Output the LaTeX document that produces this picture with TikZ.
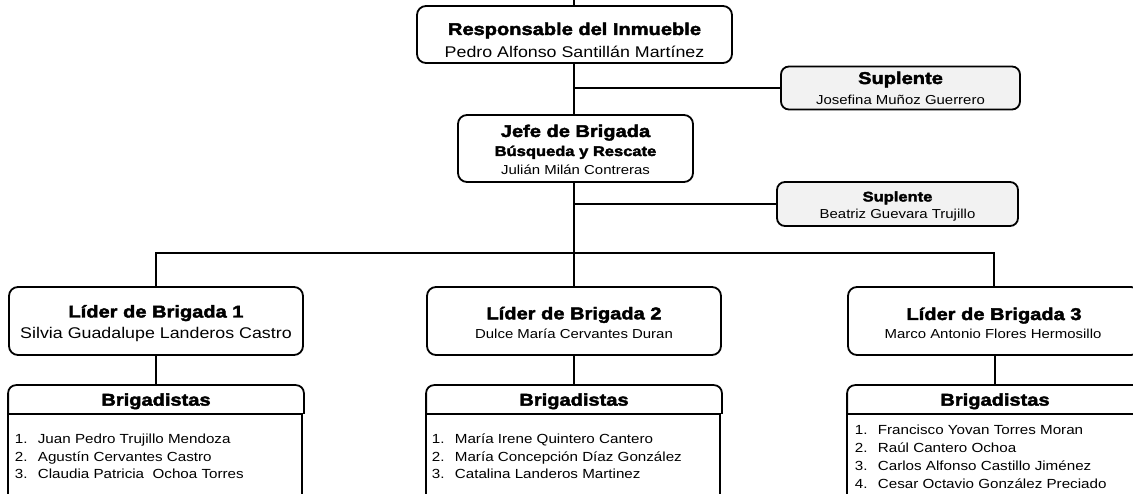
\documentclass[tikz,border=0pt]{standalone}
\usepackage{fontspec}
\setmainfont{Liberation Sans}[FakeStretch=1.15]
\newfontfamily\heavy{Liberation Sans}[FakeStretch=1.18,BoldFeatures={FakeBold=2.5}]
\definecolor{supfill}{HTML}{F2F2F2}
\newcommand{\numit}[1]{\makebox[23pt][l]{#1}}
\begin{document}
\begin{tikzpicture}[x=1pt,y=-1pt,line width=1.8pt,
  box/.style={draw=black,rounded corners=9pt,inner sep=0pt,fill=white},
  supbox/.style={box,fill=supfill,rounded corners=8pt},
  ttl/.style={anchor=base,inner sep=0pt,font=\heavy\bfseries\fontsize{17}{17}\selectfont},
  ttlsm/.style={anchor=base,inner sep=0pt,font=\heavy\bfseries\fontsize{14}{14}\selectfont},
  nm/.style={anchor=base,inner sep=0pt,font=\fontsize{13}{13}\selectfont},
  nmbig/.style={anchor=base,inner sep=0pt,font=\fontsize{15.5}{15.5}\selectfont},
  item/.style={anchor=base west,inner sep=0pt,font=\fontsize{13.2}{13.2}\selectfont},
  hdr/.style={inner sep=0pt,minimum width=294pt,minimum height=27pt,text depth=0pt,
    font=\heavy\bfseries\fontsize{17}{17}\selectfont}]
\useasboundingbox (0,0) rectangle (1133,494);
\clip (0,0) rectangle (1133,494);

% spine coordinates
\coordinate (topend) at (574,0);
\coordinate (spine) at (574,0);
\coordinate (bar) at (574,253);

% boxes
\node[box,minimum width=315pt,minimum height=57pt] (resp) at (574.5,34.5) {};
\node[supbox,minimum width=239pt,minimum height=43pt] (sup1) at (900.5,88) {};
\node[box,minimum width=235pt,minimum height=67pt] (jefe) at (575.5,148.5) {};
\node[supbox,minimum width=241pt,minimum height=44pt] (sup2) at (897.5,204) {};
\node[box,minimum width=294pt,minimum height=68pt] (lid1) at (156,321) {};
\node[box,minimum width=294pt,minimum height=68pt] (lid2) at (574,321) {};
\node[box,minimum width=292pt,minimum height=68pt] (lid3) at (994,321) {};

% connectors
\draw (topend) -- (resp.north -| spine);
\draw (resp.south -| spine) -- (jefe.north -| spine);
\draw (sup1.west) -- (sup1.west -| spine);
\draw (jefe.south -| spine) -- (lid2.north -| spine);
\draw (sup2.west) -- (sup2.west -| spine);
\draw (lid1.north) -- (lid1.north |- bar) -- (lid3.north |- bar) -- (lid3.north);

% texts
\node[ttl] (resp-a) at (574.5,35) {Responsable del Inmueble};
\node[nmbig] (resp-b) at (574.5,58) {Pedro Alfonso Santillán Martínez};
\node[ttl] (sup1-a) at (900.5,84) {Suplente};
\node[nm] (sup1-b) at (900.5,104.3) {Josefina Muñoz Guerrero};
\node[ttl] (jefe-a) at (575.5,137) {Jefe de Brigada};
\node[ttlsm] (jefe-b) at (575.5,156) {Búsqueda y Rescate};
\node[nm] (jefe-c) at (575.5,175) {Julián Milán Contreras};
\node[ttlsm] (sup2-a) at (897.5,201.5) {Suplente};
\node[nm] (sup2-b) at (897.5,219) {Beatriz Guevara Trujillo};
\node[ttl] (lid1-a) at (156,317.5) {Líder de Brigada 1};
\node[nmbig] (lid1-b) at (156,339) {Silvia Guadalupe Landeros Castro};
\node[ttl] (lid2-a) at (574,319.3) {Líder de Brigada 2};
\node[nm] (lid2-b) at (574,338.3) {Dulce María Cervantes Duran};
\node[ttl] (lid3-a) at (994,320) {Líder de Brigada 3};
\node[nm] (lid3-b) at (993,339) {Marco Antonio Flores Hermosillo};

% brigadistas headers and lists
\foreach \n/\cx in {1/156,2/574,3/995}{
  \node[hdr] (bh\n) at (\cx,399.5) {Brigadistas};
  \draw[rounded corners=8pt] (bh\n.south west) |- (bh\n.north) -| (bh\n.south east);
  \draw (bh\n.south west) rectangle ++(294,120);
}
\draw (lid1.south) -- (bh1.north);
\draw (lid2.south) -- (bh2.north);
\draw (lid3.south -| bh3.north) -- (bh3.north);

\foreach \t [count=\i] in {Juan Pedro Trujillo Mendoza,Agustín Cervantes Castro,Claudia Patricia~ Ochoa Torres}
  \node[item] (b1i\i) at (14,{443.3+17.8*(\i-1)}) {\numit{\i.}\t};
\foreach \t [count=\i] in {María Irene Quintero Cantero,María Concepción Díaz González,Catalina Landeros Martinez}
  \node[item] (b2i\i) at (431,{443.3+17.8*(\i-1)}) {\numit{\i.}\t};
\foreach \t [count=\i] in {Francisco Yovan Torres Moran,Raúl Cantero Ochoa,Carlos Alfonso Castillo Jiménez,Cesar Octavio González Preciado}
  \node[item] (b3i\i) at (854,{434+18.1*(\i-1)}) {\numit{\i.}\t};
\end{tikzpicture}
\end{document}
